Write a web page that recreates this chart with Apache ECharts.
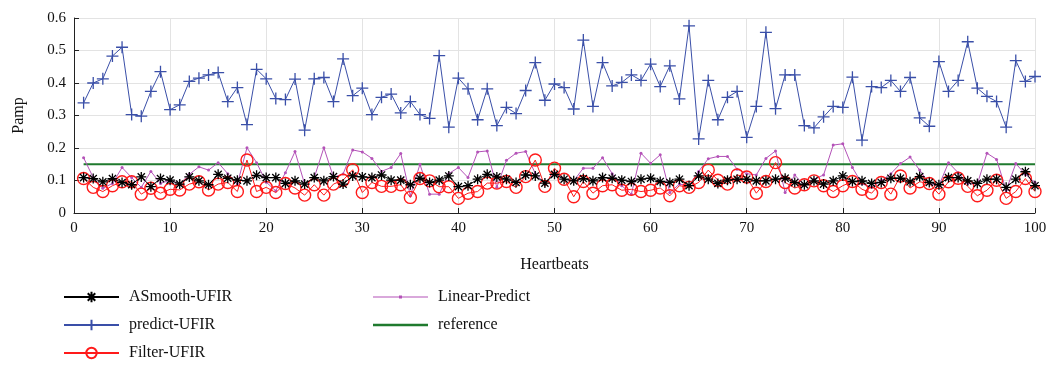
<!DOCTYPE html>
<html>
<head>
<meta charset="utf-8">
<script src="https://cdn.jsdelivr.net/npm/echarts@6/dist/echarts.min.js"></script>
<style>
html,body{margin:0;padding:0;background:#fff;}
#chart{width:1055px;height:368px;}
</style>
</head>
<body>
<div id="chart"></div>
<script>
var xTicks = [0,10,20,30,40,50,60,70,80,90,100];
var yTicks = [0,0.1,0.2,0.3,0.4,0.5,0.6];

var asmooth = [0.109,0.106,0.096,0.106,0.094,0.087,0.111,0.081,0.106,0.101,0.089,0.111,0.099,0.087,0.119,0.107,0.101,0.099,0.116,0.109,
0.109,0.091,0.099,0.089,0.109,0.099,0.112,0.089,0.114,0.111,0.109,0.117,0.101,0.101,0.087,0.107,0.094,0.101,0.114,0.081,
0.084,0.104,0.119,0.111,0.104,0.094,0.117,0.114,0.092,0.119,0.104,0.099,0.106,0.099,0.109,0.107,0.101,0.097,0.104,0.107,
0.097,0.094,0.104,0.084,0.114,0.104,0.091,0.101,0.104,0.104,0.099,0.099,0.104,0.107,0.094,0.087,0.099,0.089,0.099,0.114,
0.097,0.099,0.091,0.094,0.107,0.107,0.096,0.112,0.094,0.087,0.109,0.109,0.099,0.091,0.104,0.104,0.079,0.104,0.127,0.084];

var predict = [0.339,0.400,0.413,0.483,0.510,0.303,0.298,0.374,0.435,0.318,
0.333,0.405,0.415,0.425,0.432,0.343,0.386,0.272,0.442,0.413,
0.352,0.349,0.412,0.255,0.413,0.417,0.343,0.474,0.361,0.384,
0.303,0.356,0.366,0.308,0.343,0.303,0.291,0.484,0.264,0.415,
0.382,0.287,0.382,0.269,0.325,0.306,0.377,0.463,0.347,0.397,
0.386,0.320,0.532,0.328,0.463,0.391,0.402,0.425,0.408,0.458,
0.389,0.453,0.351,0.576,0.228,0.408,0.287,0.356,0.374,0.233,
0.328,0.556,0.321,0.425,0.425,0.269,0.262,0.296,0.328,0.325,
0.418,0.224,0.389,0.386,0.408,0.374,0.417,0.293,0.267,0.466,
0.374,0.408,0.527,0.384,0.359,0.343,0.264,0.469,0.405,0.420];

var filter = [0.106,0.079,0.066,0.084,0.096,0.096,0.058,0.076,0.061,0.073,0.071,0.089,0.096,0.071,0.089,0.094,0.066,0.163,0.066,0.079,
0.063,0.091,0.077,0.055,0.087,0.055,0.089,0.101,0.133,0.063,0.094,0.082,0.082,0.087,0.048,0.106,0.099,0.081,0.081,0.045,
0.061,0.066,0.092,0.092,0.097,0.079,0.112,0.163,0.082,0.138,0.104,0.050,0.097,0.061,0.084,0.087,0.070,0.073,0.066,0.070,
0.077,0.053,0.084,0.079,0.094,0.132,0.101,0.089,0.117,0.111,0.061,0.097,0.155,0.094,0.077,0.087,0.099,0.084,0.066,0.084,
0.097,0.073,0.061,0.094,0.058,0.114,0.077,0.096,0.091,0.058,0.096,0.107,0.082,0.053,0.070,0.101,0.045,0.066,0.106,0.066];

var linear = [0.170,0.109,0.076,0.091,0.140,0.109,0.079,0.128,0.091,0.101,0.089,0.119,0.142,0.132,0.155,0.121,0.089,0.201,0.155,0.095,
0.068,0.124,0.189,0.089,0.109,0.201,0.110,0.120,0.194,0.188,0.168,0.128,0.140,0.183,0.053,0.150,0.058,0.058,0.121,0.140,
0.109,0.188,0.191,0.079,0.162,0.184,0.189,0.121,0.091,0.124,0.104,0.099,0.138,0.138,0.170,0.121,0.084,0.058,0.184,0.153,
0.179,0.063,0.089,0.084,0.128,0.167,0.174,0.174,0.135,0.121,0.117,0.168,0.191,0.063,0.117,0.084,0.104,0.117,0.209,0.213,
0.140,0.090,0.079,0.099,0.121,0.152,0.172,0.132,0.091,0.084,0.155,0.124,0.091,0.089,0.184,0.165,0.070,0.152,0.119,0.094];

var refValue = 0.15;
var refRange = [1, 100];

function pairs(arr){ return arr.map(function(v,i){ return [i+1, v]; }); }

var FONT = '"Liberation Serif","DejaVu Serif",serif';
var C_BLACK = '#000000', C_BLUE = '#3a4fa8', C_RED = '#ff1a1a', C_PURPLE = '#b452b8', C_GREEN = '#1f7a2e';

var asterisk = 'path://M0,-5L0,5M-5,0L5,0M-3.6,-3.6L3.6,3.6M-3.6,3.6L3.6,-3.6';
var plus = 'path://M0,-5L0,5M-5,0L5,0';
var refIcon = 'path://M0,0L55,0L55,2.4L0,2.4Z';
var linIcon = 'path://M0,1L55,1L55,2L0,2Z M26,0L29,0L29,3L26,3Z';

var legendText = {fontFamily: FONT, fontSize: 16, color: '#111', padding: [0,0,0,5]};

var chart = echarts.init(document.getElementById('chart'), null, {renderer:'canvas'});
chart.setOption({
  animation: false,
  backgroundColor: '#fff',
  textStyle: {fontFamily: FONT},
  grid: {left: 74, right: 20, top: 18, bottom: 155, containLabel: false},
  legend: [{
    orient: 'vertical', left: 63, top: 289, height: 80, padding: 0,
    itemWidth: 55, itemHeight: 13, itemGap: 12,
    data: ['ASmooth-UFIR','predict-UFIR','Filter-UFIR'],
    textStyle: legendText
  },{
    orient: 'vertical', left: 373, top: 289, height: 80, padding: 0,
    itemWidth: 55, itemHeight: 13, itemGap: 12,
    data: [{name: 'Linear-Predict', icon: linIcon}, {name: 'reference', icon: refIcon}],
    textStyle: legendText
  }],
  xAxis: {
    type: 'value', min: xTicks[0], max: xTicks[xTicks.length-1], interval: 10,
    name: 'Heartbeats', nameLocation: 'middle', nameGap: 44,
    nameTextStyle: {fontFamily: FONT, fontSize: 16, color: '#111'},
    axisLine: {show: true, lineStyle: {color: '#222', width: 1}},
    axisTick: {show: true, inside: true, length: 5, lineStyle: {color: '#222'}},
    axisLabel: {fontFamily: FONT, fontSize: 15, color: '#111', margin: 8},
    splitLine: {show: true, lineStyle: {color: '#e3e3e3', width: 1}}
  },
  yAxis: {
    type: 'value', min: yTicks[0], max: yTicks[yTicks.length-1], interval: 0.1,
    name: 'Pamp', nameLocation: 'middle', nameGap: 47, nameRotate: 90,
    nameTextStyle: {fontFamily: FONT, fontSize: 16, color: '#111'},
    axisLine: {show: true, lineStyle: {color: '#222', width: 1}},
    axisTick: {show: true, inside: true, length: 5, lineStyle: {color: '#222'}},
    axisLabel: {fontFamily: FONT, fontSize: 15, color: '#111', margin: 8},
    splitLine: {show: true, lineStyle: {color: '#e3e3e3', width: 1}}
  },
  series: [
    {
      name: 'reference', type: 'line', data: [[refRange[0], refValue],[refRange[1], refValue]],
      showSymbol: false, symbol: 'none', z: 1,
      lineStyle: {color: C_GREEN, width: 2}, itemStyle: {color: C_GREEN}
    },
    {
      name: 'Linear-Predict', type: 'line', data: pairs(linear), z: 2,
      symbol: 'circle', symbolSize: 3, showAllSymbol: true,
      lineStyle: {color: C_PURPLE, width: 1}, itemStyle: {color: C_PURPLE, borderWidth: 0}
    },
    {
      name: 'predict-UFIR', type: 'line', data: pairs(predict), z: 3,
      symbol: plus, symbolSize: 12, showAllSymbol: true,
      lineStyle: {color: C_BLUE, width: 1}, itemStyle: {color: C_BLUE, borderColor: C_BLUE, borderWidth: 1.3}
    },
    {
      name: 'Filter-UFIR', type: 'line', data: pairs(filter), z: 4,
      symbol: 'circle', symbolSize: 12, showAllSymbol: true,
      lineStyle: {color: C_RED, width: 1}, itemStyle: {color: 'rgba(255,255,255,0)', borderColor: C_RED, borderWidth: 1.4}
    },
    {
      name: 'ASmooth-UFIR', type: 'line', data: pairs(asmooth), z: 5,
      symbol: asterisk, symbolSize: 10, showAllSymbol: true,
      lineStyle: {color: C_BLACK, width: 1}, itemStyle: {color: C_BLACK, borderColor: C_BLACK, borderWidth: 1.3}
    }
  ]
});
</script>
</body>
</html>
